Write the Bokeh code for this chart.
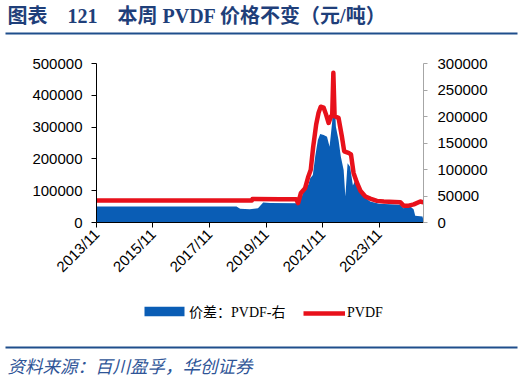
from math import pi
import pandas as pd
from bokeh.plotting import figure
from bokeh.layouts import column
from bokeh.core.properties import value
from bokeh.models import (Range1d, LinearAxis, FixedTicker, DatetimeTickFormatter,
                          NumeralTickFormatter, Legend, LegendItem, ColumnDataSource)
from bokeh.embed import file_html
from bokeh.resources import INLINE

# ---------------- data ----------------
title_text = "图表\u3000121\u3000本周 PVDF 价格不变（元/吨）"
source_text = "资料来源：百川盈孚，华创证券"
pvdf_label = "PVDF"
spread_label = "价差：PVDF-右"

pvdf_dates = ["2013-11-01", "2019-05-01", "2019-05-10", "2020-05-01", "2020-11-24",
              "2020-12-20", "2021-01-25", "2021-03-20", "2021-05-01", "2021-06-01",
              "2021-07-01", "2021-08-10", "2021-09-10", "2021-10-08", "2021-11-15",
              "2021-12-15", "2022-01-18", "2022-02-17", "2022-03-05", "2022-03-20",
              "2022-04-05", "2022-05-26", "2022-07-08", "2022-08-07", "2022-10-01",
              "2022-11-03", "2022-12-06", "2023-01-19", "2023-03-04", "2023-05-08",
              "2023-07-09", "2023-10-05", "2024-01-01", "2024-07-31", "2024-09-13",
              "2024-11-17", "2025-01-23", "2025-04-16", "2025-05-28"]
pvdf_values = [69000, 69000, 74000, 73000, 73000,
               61000, 93000, 108000, 145000, 166000,
               235000, 308000, 345000, 364000, 361000,
               340000, 313000, 334000, 334000, 471000,
               334000, 329000, 271000, 224000, 219000,
               214000, 156000, 125000, 100000, 82000,
               75000, 68000, 66000, 64000, 53000,
               53000, 57000, 66000, 63000]

spread_dates = ["2013-11-01", "2018-10-15", "2018-12-01", "2019-04-05", "2019-07-20",
                "2019-09-25", "2019-12-25", "2020-12-20", "2021-02-05", "2021-03-20",
                "2021-05-01", "2021-05-25", "2021-06-28", "2021-07-28", "2021-09-01",
                "2021-10-01", "2021-11-15", "2021-12-28", "2022-01-30", "2022-03-05",
                "2022-03-20", "2022-04-22", "2022-05-26", "2022-06-25", "2022-07-31",
                "2022-08-22", "2022-09-20", "2022-10-22", "2022-11-28", "2023-01-10",
                "2023-03-04", "2023-04-12", "2023-07-09", "2023-11-01", "2024-07-31",
                "2024-09-13", "2024-12-08", "2025-01-20", "2025-02-10", "2025-05-15",
                "2025-05-28"]
spread_values = [30100, 30100, 26000, 25200, 27000,
                 37600, 37000, 36500, 49000, 64700,
                 71000, 83500, 89800, 124000, 155600,
                 167000, 165000, 162000, 143000, 190000,
                 282000, 180700, 155600, 124000, 99000,
                 49000, 111800, 105400, 70000, 84000,
                 65000, 49000, 39500, 35200, 33300,
                 27100, 30100, 25000, 12600, 11300,
                 3000]

x_tick_dates = ["2013-11-01", "2015-11-01", "2017-11-01", "2019-11-01",
                "2021-11-01", "2023-11-01"]
left_ticks = [0, 100000, 200000, 300000, 400000, 500000]
right_ticks = [0, 50000, 100000, 150000, 200000, 250000, 300000]
x_start, x_end = "2013-11-01", "2025-05-28"

# ---------------- styling ----------------
BLUE = "#0A5DB5"
RED = "#E8111B"
NAVY = "#1F3F7A"
LINE_NAVY = "#1F4E8C"
SRC_BLUE = "#2F5597"
AX_FONT = "'Liberation Sans', Arial, sans-serif"
SERIF_CJK = "'Liberation Serif', 'Noto Sans CJK SC', serif"
W = 524


def deco_figure(h, y_top):
    f = figure(width=W, height=h, output_backend="svg", toolbar_location=None,
               x_range=Range1d(0, W), y_range=Range1d(y_top + h, y_top),
               x_axis_location=None, y_axis_location=None,
               min_border=0, min_border_left=0, min_border_right=0,
               min_border_top=0, min_border_bottom=0, frame_align=False)
    f.outline_line_color = None
    f.xgrid.visible = False
    f.ygrid.visible = False
    f.background_fill_color = "white"
    f.border_fill_color = "white"
    return f


# ---------------- top: title ----------------
top = deco_figure(45, 0)
top.text(x=[7], y=[15], text=[title_text], text_baseline="middle",
         text_align="left", text_font=value(SERIF_CJK), text_font_style="bold",
         text_font_size="20px", text_color=NAVY)
top.line(x=[5, 517], y=[33, 33], line_color=LINE_NAVY, line_width=2)

# ---------------- main chart ----------------
p = figure(width=W, height=255, x_axis_type="datetime", output_backend="svg",
           toolbar_location=None, frame_align=False,
           x_range=Range1d(pd.Timestamp(x_start), pd.Timestamp(x_end)),
           y_range=Range1d(0, 500000),
           min_border_left=96, min_border_right=101, min_border_top=18,
           min_border_bottom=78)
p.outline_line_color = None
p.xgrid.visible = False
p.ygrid.visible = False
p.background_fill_color = "white"
p.border_fill_color = "white"
p.extra_y_ranges = {"r": Range1d(0, 300000)}

spread_src = ColumnDataSource(dict(x=pd.to_datetime(spread_dates), y=spread_values))
pvdf_src = ColumnDataSource(dict(x=pd.to_datetime(pvdf_dates), y=pvdf_values))

p.varea(x="x", y1=0, y2="y", source=spread_src, fill_color=BLUE, y_range_name="r")
p.line(x="x", y="y", source=pvdf_src, line_color=RED, line_width=4.5, line_join="round")

xt = [float(t.value // 10**6) for t in pd.to_datetime(x_tick_dates)]
xa = p.xaxis[0]
xa.ticker = FixedTicker(ticks=xt)
fmt = "%Y/%m"
xa.formatter = DatetimeTickFormatter(years=fmt, months=fmt, days=fmt, hours=fmt,
                                     hourmin=fmt, minutes=fmt, minsec=fmt,
                                     seconds=fmt, milliseconds=fmt, microseconds=fmt)
xa.major_label_orientation = pi / 4
xa.major_label_text_font = AX_FONT
xa.major_label_text_font_size = "15px"
xa.major_label_text_color = "black"
xa.axis_line_color = "black"
xa.major_tick_line_color = "black"
xa.major_tick_out = 5
xa.major_tick_in = 0
xa.minor_tick_line_color = None
xa.major_label_standoff = 4

ya = p.yaxis[0]
ya.ticker = FixedTicker(ticks=left_ticks)
ya.formatter = NumeralTickFormatter(format="0")
ya.major_label_text_font = AX_FONT
ya.major_label_text_font_size = "15px"
ya.major_label_text_color = "black"
ya.axis_line_color = "black"
ya.major_tick_line_color = "black"
ya.major_tick_out = 5
ya.major_tick_in = 0
ya.minor_tick_line_color = None
ya.major_label_standoff = 9

ra = LinearAxis(y_range_name="r", ticker=FixedTicker(ticks=right_ticks),
                formatter=NumeralTickFormatter(format="0"))
ra.major_label_text_font = AX_FONT
ra.major_label_text_font_size = "15px"
ra.major_label_text_color = "black"
ra.axis_line_color = "#A6A6A6"
ra.major_tick_line_color = "#A6A6A6"
ra.major_tick_out = 4
ra.major_tick_in = 0
ra.minor_tick_line_color = None
ra.major_label_standoff = 10
p.add_layout(ra, "right")

# ---------------- bottom: legend + source ----------------
bot = deco_figure(81, 300)
# legend proxies: same data as the chart, lying far outside this strip's ranges
leg_area = bot.quad(left="x", right="x", bottom=0, top="y", source=spread_src,
                    fill_color=BLUE, line_color=None)
leg_line = bot.line(x="x", y="y", source=pvdf_src, line_color=RED, line_width=4.5)

common = dict(orientation="horizontal", glyph_height=12, padding=0, margin=0,
              border_line_color=None, background_fill_alpha=0,
              label_text_font=SERIF_CJK, label_text_font_size="14px",
              label_text_color="black")
legend1 = Legend(items=[LegendItem(label=spread_label, renderers=[leg_area])],
                 location=(139, 60), glyph_width=50, label_standoff=0, **common)
legend2 = Legend(items=[LegendItem(label=pvdf_label, renderers=[leg_line])],
                 location=(303, 60), glyph_width=42, label_standoff=2, **common)
bot.add_layout(legend1)
bot.add_layout(legend2)
bot.line(x=[5, 517], y=[347, 347], line_color=LINE_NAVY, line_width=2)
bot.text(x=[7], y=[365], text=[source_text], text_baseline="middle",
         text_align="left", text_font=value("'Noto Sans CJK SC', sans-serif"),
         text_font_style="italic", text_font_size="17.5px", text_color=SRC_BLUE)

layout = column(top, p, bot, spacing=0)
open("out.html", "w").write(file_html(layout, INLINE))
